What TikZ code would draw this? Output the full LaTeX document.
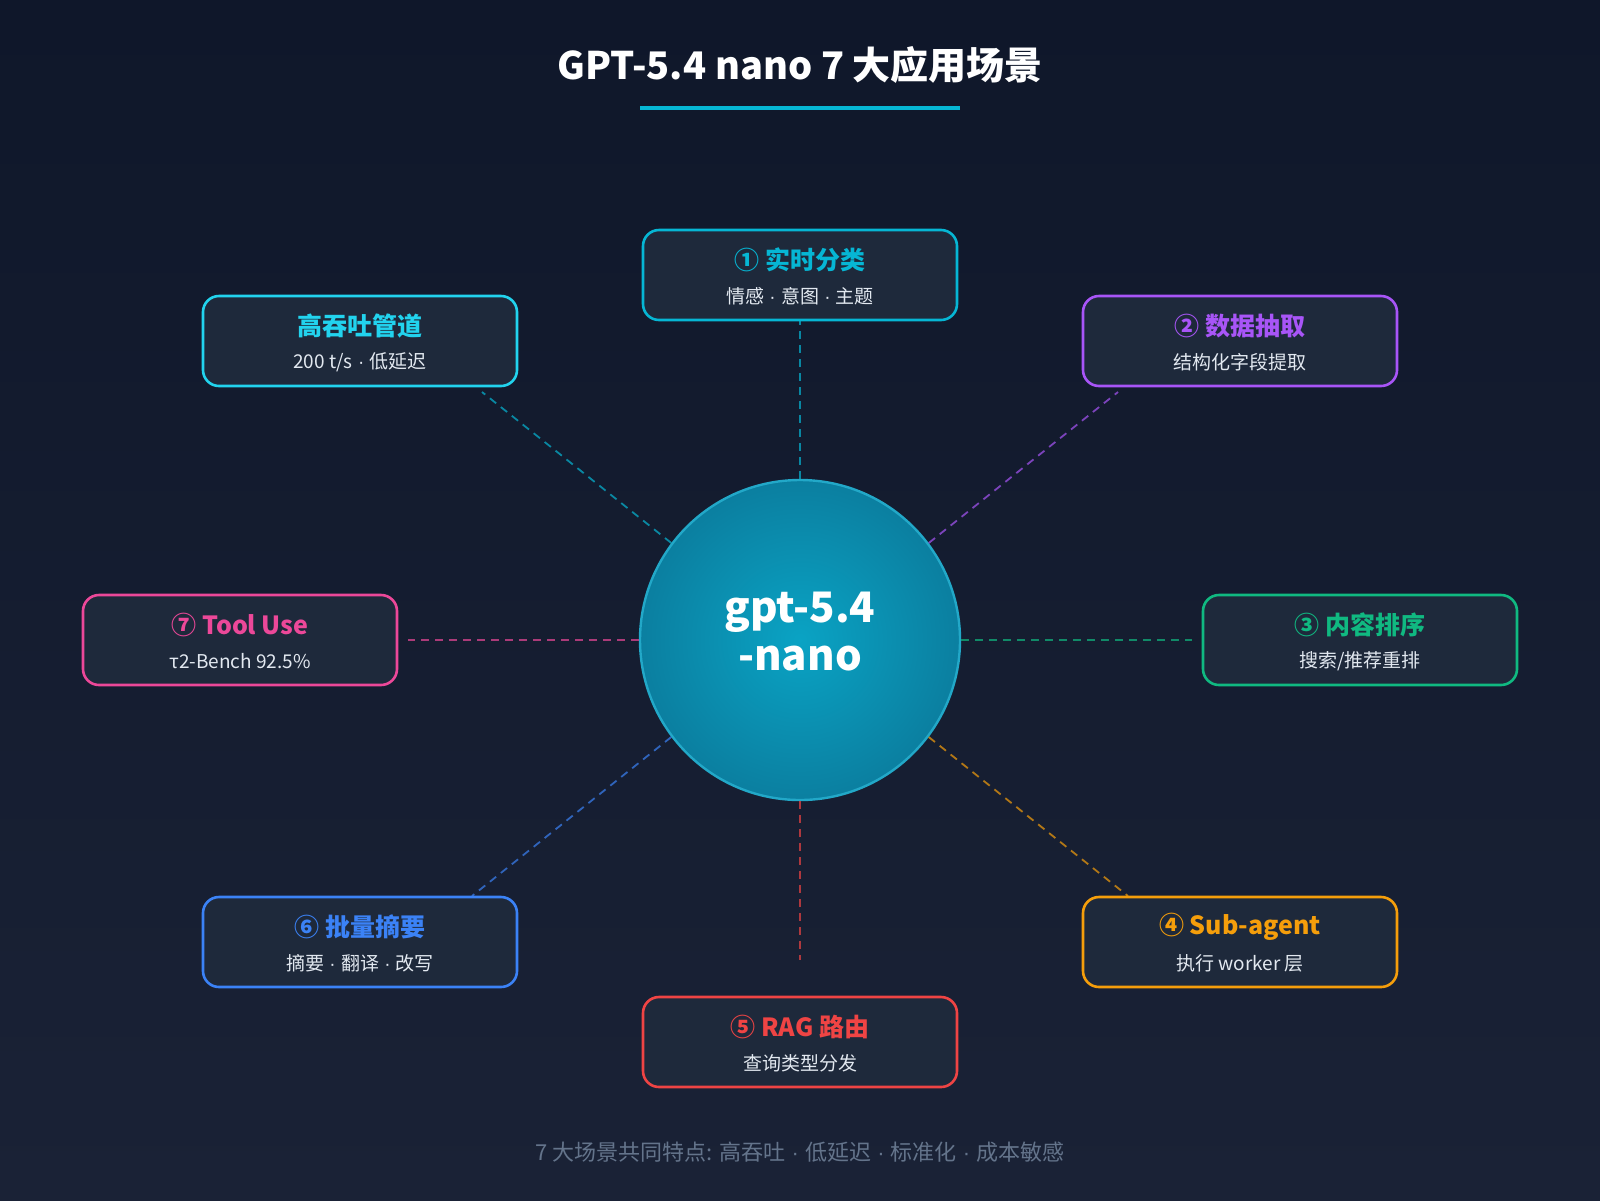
\documentclass[tikz,border=0pt]{standalone}
\usepackage{fontspec}
\setmainfont{Noto Sans CJK SC}
\newfontfamily\latinf{Liberation Sans}
\usetikzlibrary{shadings}
\definecolor{bgA}{HTML}{0F172A}
\definecolor{bgB}{HTML}{1A2236}
\definecolor{boxfill}{HTML}{1E293B}
\definecolor{ccyan}{HTML}{06B6D4}
\definecolor{ccyanL}{HTML}{22D3EE}
\definecolor{cpurple}{HTML}{A855F7}
\definecolor{cgreen}{HTML}{10B981}
\definecolor{corange}{HTML}{F59E0B}
\definecolor{cred}{HTML}{EF4444}
\definecolor{cblue}{HTML}{3B82F6}
\definecolor{cpink}{HTML}{EC4899}
\definecolor{subtxt}{HTML}{E2E8F0}
\definecolor{foot}{HTML}{64748B}
\definecolor{circIn}{HTML}{0AA3C4}
\definecolor{circOut}{HTML}{0B7FA0}
\definecolor{circEdge}{HTML}{22A8C8}
\newcommand\dt{{\latinf\ ·\ }}
\begin{document}
\begin{tikzpicture}[x=0.5pt,y=-0.5pt,
  card/.style={draw=#1,line width=1.3pt,fill=boxfill,rounded corners=8pt,minimum width=157pt,minimum height=45pt,inner sep=0pt},
  head/.style={text=#1,font=\bfseries\fontsize{12.5}{14}\selectfont},
  sub/.style={text=subtxt,font=\fontsize{9.5}{11}\selectfont},
  link/.style={draw=#1,draw opacity=0.7,line width=0.9pt,dash pattern=on 4pt off 3pt}]
\shade[top color=bgA,bottom color=bgB] (0,0) rectangle (1600,1200);
\useasboundingbox (0,0) rectangle (1600,1200);
\node[text=white,font=\bfseries\fontsize{19}{22}\selectfont] (title) at (800,65) {GPT-5.4 nano 7 大应用场景};
\draw[ccyan,line width=1.6pt] (640,108) -- (960,108);
% center
\node[circle,minimum size=160pt,inner sep=0pt,draw=circEdge,line width=1.2pt,inner color=circIn,outer color=circOut] (c) at (800,640) {};
\node[text=white,font=\bfseries\fontsize{21}{24}\selectfont,align=center] at (800,632) {gpt-5.4\\-nano};
% cards
\node[card=ccyan] (b1) at (800,275) {};
\node[head=ccyan] at (800,260) {① 实时分类};
\node[sub] at (800,296) {情感\dt 意图\dt 主题};
\node[card=ccyanL] (b0) at (360,341) {};
\node[head=ccyanL] at (360,326) {高吞吐管道};
\node[sub] at (360,362) {200 t/s\dt 低延迟};
\node[card=cpurple] (b2) at (1240,341) {};
\node[head=cpurple] at (1240,326) {② 数据抽取};
\node[sub] at (1240,362) {结构化字段提取};
\node[card=cpink] (b7) at (240,640) {};
\node[head=cpink] at (240,625) {⑦ Tool Use};
\node[sub] at (240,661) {τ2-Bench 92.5\%};
\node[card=cgreen] (b3) at (1360,640) {};
\node[head=cgreen] at (1360,625) {③ 内容排序};
\node[sub] at (1360,661) {搜索/推荐重排};
\node[card=cblue] (b6) at (360,942) {};
\node[head=cblue] at (360,927) {⑥ 批量摘要};
\node[sub] at (360,963) {摘要\dt 翻译\dt 改写};
\node[card=corange] (b4) at (1240,942) {};
\node[head=corange] at (1240,927) {④ Sub-agent};
\node[sub] at (1240,963) {执行 worker 层};
\node[card=cred] (b5) at (800,1042) {};
\node[head=cred] at (800,1027) {⑤ RAG 路由};
\node[sub] at (800,1063) {查询类型分发};
% links
\draw[link=ccyan] (c.north) -- (b1.south);
\draw[link=ccyan] (c.143) -- (482,392);
\draw[link=cpurple] (c.37) -- (1118,392);
\draw[link=cpink] (c.west) -- (408,640);
\draw[link=cgreen] (c.east) -- (1192,640);
\draw[link=cblue] (c.217) -- (472,896);
\draw[link=corange] (c.323) -- (1128,896);
\draw[link=cred] (c.south) -- (800,960);
\node[text=foot,font=\fontsize{11}{13}\selectfont] (ft) at (800,1152) {7 大场景共同特点: 高吞吐\dt 低延迟\dt 标准化\dt 成本敏感};
\end{tikzpicture}
\end{document}
